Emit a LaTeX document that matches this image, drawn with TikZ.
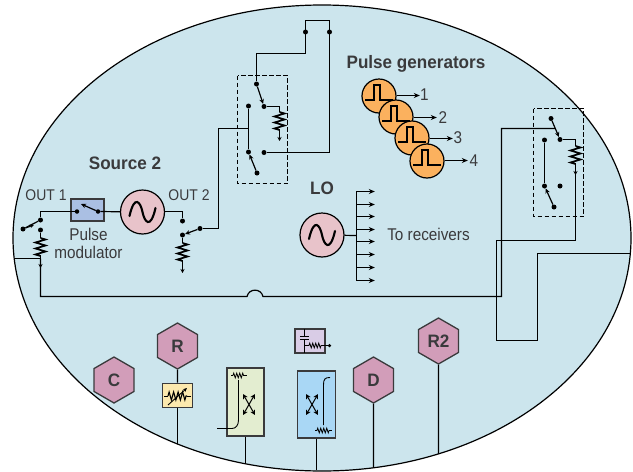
\documentclass[tikz,border=0pt]{standalone}
\usepackage{fontspec}
\setmainfont[FakeStretch=0.9,BoldFeatures={FakeStretch=0.95}]{Liberation Sans}
\usetikzlibrary{arrows.meta,shapes.geometric,decorations.pathmorphing}
\definecolor{sea}{HTML}{CCE5ED}
\definecolor{ink}{HTML}{3A3A3C}
\definecolor{pinkc}{HTML}{E8C3CA}
\definecolor{hexc}{HTML}{D29DB9}
\definecolor{orangec}{HTML}{FBB15E}
\definecolor{bluec}{HTML}{AABFE3}
\definecolor{yellowc}{HTML}{FCE9AE}
\definecolor{greenc}{HTML}{E3EDD0}
\definecolor{lilacc}{HTML}{D9CCE6}
\definecolor{skyc}{HTML}{A9D7F5}
\tikzset{
  wire/.style={line width=1.2pt,black},
  arm/.style={line width=1.2pt,-{Stealth[length=5pt,width=4.5pt]}},
  thinarrow/.style={line width=1.1pt,-{Stealth[length=6pt,width=5pt]}},
  termdot/.style={circle,fill=black,inner sep=0pt,minimum size=5pt},
  jn/.style={inner sep=0pt,minimum size=0pt},
  res/.style={line width=1.7pt,decorate,decoration={zigzag,segment length=6pt,amplitude=5pt}},
  tinyres/.style={line width=0.8pt,decorate,decoration={zigzag,segment length=3pt,amplitude=2.4pt}},
  lab/.style={text=ink,font=\fontsize{17}{19}\selectfont,inner sep=0pt},
  title/.style={text=ink,font=\fontsize{18}{20}\selectfont\bfseries,inner sep=0pt},
  osc/.style={circle,draw=black,line width=1.2pt,fill=pinkc,minimum size=44pt,inner sep=0pt},
  pg/.style={circle,draw=black,line width=1.2pt,fill=orangec,minimum size=34pt,inner sep=0pt},
  hexa/.style={regular polygon,regular polygon sides=6,shape border rotate=30,draw=ink,line width=1.3pt,fill=hexc,minimum size=46pt,inner sep=0pt,text=ink,font=\fontsize{18}{20}\selectfont\bfseries},
  dbox/.style={draw=black,line width=1.1pt,dash pattern=on 4.5pt off 2.5pt},
  ibox/.style={draw=ink,line width=1.3pt,inner sep=0pt}
}
\newcommand{\wave}[1]{\draw[line width=2.1pt,line cap=round,shift={(#1)}] (-13,4) .. controls (-8,-18) and (-2,-10) .. (0,0) .. controls (2,10) and (8,18) .. (13,-4);}
\newcommand{\pulseshape}[1]{\draw[line width=1.5pt,shift={(#1)}] (-14,4) -- (-5,4) -- (-5,-11) -- (1,-11) -- (1,4) -- (14,4);}
\newcommand{\crossarrows}[1]{\draw[line width=1pt,{Stealth[length=5pt,width=5pt]}-{Stealth[length=5pt,width=5pt]},shift={(#1)}] (-6,-10) -- (6,11);
\draw[line width=1pt,{Stealth[length=5pt,width=5pt]}-{Stealth[length=5pt,width=5pt]},shift={(#1)}] (6,-10) -- (-6,11);}
\begin{document}
\begin{tikzpicture}[x=1pt,y=-1pt]
\useasboundingbox (0,0) rectangle (633,472);
\draw[line width=1.2pt,fill=sea] (322,238) ellipse [x radius=309,y radius=233];

% left source block
\node[termdot] (o1top) at (40.5,220) {};
\node[termdot] (o1arm) at (23,229) {};
\node[termdot] (o1low) at (40.5,230) {};
\node[jn] (o1res) at (40.5,258.5) {};
\node[jn] (o1in) at (15,258.5) {};
\node[jn] (o1corner) at (40.5,211.5) {};
\node[jn] (o1run) at (40.5,296.5) {};
\node[jn] (hl) at (247,296.5) {};
\node[jn] (hr) at (263,296.5) {};
\node[jn] (rc1) at (501.5,296.5) {};
\node[jn] (rc2) at (501.5,128.5) {};
\node[rectangle,draw=ink,line width=1.2pt,fill=bluec,minimum width=33pt,minimum height=22pt,inner sep=0pt] (pm) at (87.5,210) {};
\node[osc] (src) at (142.5,212) {};
\node[jn] (o2corner) at (182.5,211.5) {};
\node[termdot] (o2top) at (182.5,221) {};
\node[termdot] (o2low) at (182.5,235) {};
\node[termdot] (o2arm) at (200,228.5) {};
\node[jn] (c2a) at (218.5,228.5) {};
\node[jn] (c2b) at (218.5,128.5) {};
\node[termdot,minimum size=4.5pt] (pmL) at (77,211.5) {};
\node[termdot,minimum size=4.5pt] (pmR) at (98,211.5) {};

\draw[wire] (o1top) -- (o1corner.center) -- (pm.west |- o1corner);
\draw[wire] (pmR) -- (src);
\draw[wire] (pm.west |- pmL) -- (pmL);
\draw[arm] (pmR) -- (81,204);
\draw[wire] (src.east |- o2corner) -- (o2corner.center) -- (o2top);
\draw[wire] (o1arm) -- (o1top);
\draw[line width=1pt,-{Stealth[length=4pt,width=3.5pt]}] (o1arm) -- (34,225);
\draw[wire,line width=1.7pt] (o1low) -- (40.5,238);
\draw[res] (40.5,238) -- (40.5,256);
\draw[wire,-{Stealth[length=4pt,width=4pt]}] (40.5,255) -- (40.5,268);
\draw[wire] (o1in) -- (o1res);
\draw[wire] (o1res) -- (o1run.center) -- (hl.center) .. controls (249,288) and (261,288) .. (hr.center) -- (rc1.center) -- (rc2.center) -- (555,128.5);
\draw[arm] (o2arm) -- (o2low);
\draw[wire,line width=1.7pt] (o2low) -- (182.5,243);
\draw[res] (182.5,243) -- (182.5,261);
\draw[wire,-{Stealth[length=4pt,width=4pt]}] (182.5,260) -- (182.5,273);
\draw[wire] (o2arm) -- (c2a.center) -- (c2b.center) -- (248.5,128.5);
\wave{142.5,212}
\node[title] at (125,163) {Source 2};
\node[lab,font=\fontsize{15.5}{17}\selectfont] at (46,195) {OUT 1};
\node[lab,font=\fontsize{15.5}{17}\selectfont] at (189,195) {OUT 2};
\node[lab,align=center,font=\fontsize{17}{18}\selectfont] at (88.5,243) {Pulse\\modulator};

% middle switch
\node[termdot] (a1) at (256.5,84) {};
\node[termdot] (a2) at (264,106.5) {};
\node[termdot] (a3) at (248.5,106) {};
\node[termdot] (a4) at (248.5,152) {};
\node[termdot] (a5) at (264,152.5) {};
\node[termdot] (a6) at (257,173) {};
\node[termdot] (t1) at (305.5,32) {};
\node[termdot] (t2) at (329.5,32) {};
\node[jn] (m1) at (256.5,53.5) {};
\node[jn] (m2) at (305.5,53.5) {};
\node[jn] (m3) at (305.5,20.5) {};
\node[jn] (m4) at (329.5,20.5) {};
\node[jn] (m5) at (329.5,152.5) {};
\node[jn] (m6) at (279.5,106.5) {};
\draw[dbox] (237.5,75.5) rectangle (287.5,183.5);
\draw[wire] (a1) -- (m1.center) -- (m2.center) -- (m3.center) -- (m4.center) -- (m5.center) -- (a5);
\draw[wire] (a3) -- (a4);
\draw[arm] (a1) -- (a2);
\draw[arm] (a6) -- (a4);
\draw[wire,line width=1.7pt] (a2) -- (m6.center) -- (279.5,112);
\draw[res] (279.5,112) -- (279.5,130);
\draw[wire,-{Stealth[length=4pt,width=4pt]}] (279.5,129) -- (279.5,141);

% pulse generators
\node[pg] (g1) at (379,96) {};
\node[pg] (g2) at (396,117) {};
\node[pg] (g3) at (412,138) {};
\node[pg] (g4) at (427,161) {};
\pulseshape{379,96}
\pulseshape{396,117}
\pulseshape{412,138}
\pulseshape{427,161}
\node[jn] (g1e) at (420,95.5) {};
\node[jn] (g2e) at (437,117.5) {};
\node[jn] (g3e) at (453,138.5) {};
\node[jn] (g4e) at (468,160.5) {};
\draw[thinarrow] (g1.east |- g1e) -- (g1e);
\draw[thinarrow] (g2.east |- g2e) -- (g2e);
\draw[thinarrow] (g3.east |- g3e) -- (g3e);
\draw[thinarrow] (g4.east |- g4e) -- (g4e);
\node[lab] at (424.5,95) {1};
\node[lab] at (443,118) {2};
\node[lab] at (458,138) {3};
\node[lab] at (474,161) {4};
\node[title] at (416,64) {Pulse generators};

% LO
\node[osc] (lo) at (322,235) {};
\wave{322,235}
\node[title] at (322,188) {LO};
\node[jn] (bus) at (356.5,235.5) {};
\node[jn] (bt) at (356.5,191.5) {};
\node[jn] (bb) at (356.5,280.5) {};
\draw[wire] (lo) -- (bus);
\draw[wire] (bt.center) -- (bb.center);
\foreach \yy/\nm in {191.5/r1,204.5/r2,216.5/r3,229.5/r4,241.5/r5,254.5/r6,267.5/r7,280.5/r8}{
  \node[jn] (\nm) at (375,\yy) {};
  \draw[thinarrow] (356,\yy) -- (\nm);
}
\node[lab] at (428.5,234) {To receivers};

% right switch
\node[termdot] (b1) at (551,118.5) {};
\node[termdot] (b2) at (560,139.5) {};
\node[termdot] (b3) at (544.5,140) {};
\node[termdot] (b4) at (544.5,186) {};
\node[termdot] (b5) at (560,186) {};
\node[termdot] (b6) at (554,207) {};
\node[jn] (n1) at (575.5,139.5) {};
\node[jn] (n2) at (575.5,240.5) {};
\node[jn] (n3) at (496.5,240.5) {};
\node[jn] (n4) at (496.5,340.5) {};
\node[jn] (n5) at (537.5,340.5) {};
\node[jn] (n6) at (537.5,253.5) {};
\node[jn] (n7) at (631,253.5) {};
\draw[dbox] (533.5,108.5) rectangle (583.5,216.5);
\draw[wire] (b3) -- (b4);
\draw[arm] (b1) -- (b2);
\draw[arm] (b6) -- (b4);
\draw[wire,line width=1.7pt] (b2) -- (n1.center) -- (575.5,146);
\draw[res] (575.5,146) -- (575.5,164);
\draw[wire,-{Stealth[length=4pt,width=4pt]}] (575.5,163) -- (575.5,175);
\draw[wire] (575.5,174) -- (n2.center) -- (n3.center) -- (n4.center) -- (n5.center) -- (n6.center) -- (n7.center);

% bottom row
\node[hexa] (C) at (114,380) {C};
\node[hexa] (R) at (177.5,346) {R};
\node[hexa] (D) at (373.5,380) {D};
\node[hexa] (R2) at (438.5,341) {R2};
\node[ibox,fill=yellowc,minimum width=30pt,minimum height=24.5pt] (att) at (177.5,395.5) {};
\node[ibox,fill=greenc,minimum width=37pt,minimum height=68pt] (cg) at (245.5,402) {};
\node[ibox,fill=skyc,minimum width=38pt,minimum height=67pt] (cb) at (316.5,404.5) {};
\node[ibox,fill=lilacc,minimum width=30pt,minimum height=24pt] (bt2) at (310,341) {};
\node[jn] (e1) at (177.5,444) {};
\node[jn] (e2) at (245.5,463) {};
\node[jn] (e3) at (316.5,470) {};
\node[jn] (e4) at (373.5,468) {};
\node[jn] (e5) at (438.5,454) {};
\draw[wire] (R) -- (att);
\draw[wire] (att) -- (e1);
\draw[wire] (cg) -- (e2);
\draw[wire] (cb) -- (e3);
\draw[wire] (D) -- (e4);
\draw[wire] (R2) -- (e5);
% attenuator symbol
\draw[line width=0.9pt] (164,396) -- (168,396);
\draw[line width=0.9pt] (187,396) -- (191,396);
\draw[line width=1.1pt,decorate,decoration={zigzag,segment length=4.5pt,amplitude=4pt}] (168,396) -- (187,396);
\draw[line width=0.9pt,-{Stealth[length=4pt,width=3.5pt]}] (168,405) -- (187,388);
% green coupler
\draw[line width=0.9pt] (217,428.5) -- (232,428.5) .. controls (236,428.5) and (238.5,425) .. (238.5,420) -- (238.5,380);
\draw[line width=0.8pt] (231,375.5) -- (233,375.5);
\draw[tinyres] (233,375.5) -- (244,375.5);
\draw[line width=0.8pt] (244,375.5) -- (247,375.5);
\crossarrows{249,404}
% blue coupler
\draw[line width=0.9pt] (330,377.5) .. controls (325,377.5) and (323.5,379) .. (323.5,385) -- (323.5,425);
\draw[line width=0.8pt] (315,430.5) -- (317,430.5);
\draw[tinyres] (317,430.5) -- (329,430.5);
\draw[line width=0.8pt] (329,430.5) -- (332,430.5);
\crossarrows{312,404}
% bias tee
\node[termdot,minimum size=3.5pt] (bd) at (329.5,345.5) {};
\draw[line width=1pt] (304.5,329) -- (304.5,336);
\draw[line width=1.1pt] (300,336.5) -- (309,336.5);
\draw[line width=1.1pt] (300,339.5) -- (309,339.5);
\draw[line width=1pt] (304.5,339) -- (304.5,353);
\draw[line width=0.8pt] (304.5,345.5) -- (309,345.5);
\draw[tinyres] (309,345.5) -- (321,345.5);
\draw[line width=0.8pt] (321,345.5) -- (bd);
\end{tikzpicture}
\end{document}
